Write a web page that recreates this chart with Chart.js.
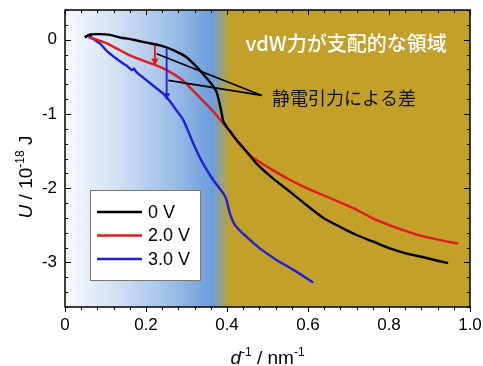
<!DOCTYPE html>
<html>
<head>
<meta charset="utf-8">
<script src="https://cdn.jsdelivr.net/npm/chart.js@4.4.1/dist/chart.umd.min.js"></script>
<style>
  html, body { margin: 0; padding: 0; overflow: hidden; background: #fff; }
  canvas { display: block; }
</style>
</head>
<body>
<canvas id="chart" width="495" height="380"></canvas>
<script>
// ---- data ----
const seriesLabels = ['0 V', '2.0 V', '3.0 V'];
const seriesColors = ['#000000', '#e3191b', '#1f1fd6'];

const v0x = [0.049, 0.062, 0.086, 0.111, 0.136, 0.169, 0.202, 0.235, 0.267, 0.300, 0.324, 0.350, 0.366, 0.374, 0.380, 0.386, 0.391, 0.399, 0.412, 0.424, 0.449, 0.473, 0.514, 0.556, 0.597, 0.638, 0.679, 0.720, 0.761, 0.802, 0.844, 0.885, 0.946];
const v0y = [0.03, 0.07, 0.075, 0.065, 0.03, 0.0, -0.04, -0.077, -0.14, -0.235, -0.36, -0.52, -0.63, -0.70, -0.82, -0.97, -1.10, -1.17, -1.265, -1.355, -1.51, -1.669, -1.871, -2.05, -2.23, -2.40, -2.52, -2.63, -2.72, -2.81, -2.88, -2.93, -3.01];

const v2x = [0.058, 0.078, 0.103, 0.128, 0.152, 0.185, 0.218, 0.251, 0.284, 0.309, 0.333, 0.358, 0.383, 0.407, 0.432, 0.457, 0.473, 0.514, 0.556, 0.597, 0.638, 0.679, 0.720, 0.761, 0.802, 0.844, 0.885, 0.926, 0.971];
const v2y = [0.035, 0.0, -0.05, -0.12, -0.19, -0.265, -0.33, -0.41, -0.52, -0.645, -0.78, -0.92, -1.075, -1.24, -1.41, -1.56, -1.62, -1.76, -1.89, -2.0, -2.095, -2.19, -2.29, -2.41, -2.5, -2.58, -2.65, -2.70, -2.746];

const v3x = [0.049, 0.058, 0.070, 0.086, 0.103, 0.128, 0.152, 0.165, 0.170, 0.177, 0.193, 0.218, 0.243, 0.259, 0.275, 0.292, 0.317, 0.341, 0.366, 0.391, 0.399, 0.407, 0.420, 0.449, 0.481, 0.523, 0.564, 0.613];
const v3y = [0.035, 0.06, 0.01, -0.05, -0.15, -0.26, -0.35, -0.41, -0.39, -0.44, -0.51, -0.62, -0.73, -0.83, -0.95, -1.08, -1.40, -1.67, -1.89, -2.07, -2.16, -2.34, -2.50, -2.66, -2.81, -2.97, -3.10, -3.27];

const xTicks = [0, 0.2, 0.4, 0.6, 0.8, 1.0];
const xTickLabels = ['0', '0.2', '0.4', '0.6', '0.8', '1.0'];
const yTicks = [-3, -2, -1, 0];
const yTickLabels = ['-3', '-2', '-1', '0'];

// arrows: [x, from, to] in data units
const redArrow = [0.222, -0.077, -0.346];
const blueArrow = [0.251, -0.121, -0.817];
// pointer lines to the label
const pointerStarts = [[0.226, -0.188], [0.255, -0.548]];
const pointerEnd = [0.486, -0.75];

const regionText = 'vdW力が支配的な領域';
const diffText = '静電引力による差';

const FONT = '"Liberation Sans", Arial, sans-serif';
const JFONT = '"Noto Sans CJK JP", sans-serif';

function pts(xs, ys) { return xs.map((x, i) => ({ x: x, y: ys[i] })); }

function line(ctx, x1, y1, x2, y2) {
    ctx.beginPath(); ctx.moveTo(x1, y1); ctx.lineTo(x2, y2); ctx.stroke();
}

// text made of runs: {t, italic, sup}
function drawRuns(ctx, runs, cx, cy, size) {
    const fontFor = r => (r.italic ? 'italic ' : '') + (r.sup ? Math.round(size * 0.65) : size) + 'px ' + FONT;
    let w = 0;
    runs.forEach(r => { ctx.font = fontFor(r); w += ctx.measureText(r.t).width; });
    let x = cx - w / 2;
    ctx.textBaseline = 'alphabetic';
    ctx.textAlign = 'left';
    runs.forEach(r => {
        ctx.font = fontFor(r);
        ctx.fillText(r.t, x, r.sup ? cy - size * 0.42 : cy);
        x += ctx.measureText(r.t).width;
    });
}

const backdrop = {
    id: 'backdrop',
    beforeDraw(chart) {
        const ctx = chart.ctx, a = chart.chartArea, xs = chart.scales.x;
        const g = ctx.createLinearGradient(xs.getPixelForValue(0), 0, xs.getPixelForValue(1), 0);
        g.addColorStop(0, '#f7f9fd');
        g.addColorStop(0.12, '#d4e2f4');
        g.addColorStop(0.25, '#a3c2ea');
        g.addColorStop(0.365, '#6b9ddc');
        g.addColorStop(0.387, '#9aa27c');
        g.addColorStop(0.407, '#c2a02a');
        g.addColorStop(1, '#c2a02a');
        ctx.save();
        ctx.fillStyle = g;
        ctx.fillRect(a.left, a.top, a.right - a.left, a.bottom - a.top);
        ctx.restore();
    }
};

const decor = {
    id: 'decor',
    afterDatasetsDraw(chart) {
        const ctx = chart.ctx, a = chart.chartArea, xs = chart.scales.x, ys = chart.scales.y;
        const X = v => xs.getPixelForValue(v), Y = v => ys.getPixelForValue(v);
        ctx.save();

        // arrows
        [[redArrow, seriesColors[1]], [blueArrow, seriesColors[2]]].forEach(([ar, c]) => {
            const x = X(ar[0]), y1 = Y(ar[1]), y2 = Y(ar[2]);
            ctx.strokeStyle = c; ctx.fillStyle = c; ctx.lineWidth = 1.8;
            line(ctx, x, y1, x, y2 - 5);
            ctx.beginPath();
            ctx.moveTo(x - 3.5, y2 - 7); ctx.lineTo(x + 3.5, y2 - 7); ctx.lineTo(x, y2); ctx.closePath(); ctx.fill();
        });

        // pointer lines
        ctx.strokeStyle = '#000'; ctx.lineWidth = 1.6;
        pointerStarts.forEach(p => line(ctx, X(p[0]), Y(p[1]), X(pointerEnd[0]), Y(pointerEnd[1])));

        // texts
        ctx.textBaseline = 'middle';
        ctx.textAlign = 'center';
        ctx.fillStyle = '#fff';
        ctx.font = '500 20px ' + JFONT;
        ctx.fillText(regionText, X(0.694), Y(-0.046));
        ctx.fillStyle = '#111';
        ctx.font = '18px ' + JFONT;
        ctx.textAlign = 'left';
        ctx.fillText(diffText, X(0.511), Y(-0.79));

        // legend box
        const bx = a.left + 25, by = a.top + 180, bw = 110, bh = 90;
        ctx.fillStyle = '#fff';
        ctx.fillRect(bx, by, bw, bh);
        ctx.strokeStyle = '#777'; ctx.lineWidth = 1;
        ctx.strokeRect(bx + 0.5, by + 0.5, bw, bh);
        ctx.font = '18px ' + FONT;
        ctx.textBaseline = 'middle';
        chart.data.datasets.forEach((ds, i) => {
            const ly = by + 22 + i * 23.5;
            ctx.strokeStyle = ds.borderColor; ctx.lineWidth = 2.5;
            line(ctx, bx + 7, ly, bx + 52, ly);
            ctx.fillStyle = '#000';
            ctx.fillText(ds.label, bx + 58, ly + 1);
        });

        // frame and ticks
        ctx.strokeStyle = '#000'; ctx.lineWidth = 1;
        for (let i = 0; i <= 25; i++) {
            const px = Math.round(X(i * 0.04)) + 0.5, len = i % 5 === 0 ? 5 : 3;
            line(ctx, px, a.bottom, px, a.bottom + len);
            line(ctx, px, a.top, px, a.top + len);
        }
        for (let i = 0; i <= 20; i++) {
            const py = Math.round(Y(-3.6 + i * 0.2)) + 0.5, len = (i - 3) % 5 === 0 ? 6 : 3;
            line(ctx, a.left, py, a.left + len, py);
            line(ctx, a.right, py, a.right - len, py);
        }
        ctx.lineWidth = 1.5;
        ctx.strokeRect(a.left, a.top, a.right - a.left, a.bottom - a.top);

        // axis titles
        ctx.fillStyle = '#000';
        drawRuns(ctx, [{ t: 'd', italic: true }, { t: '-1', sup: true }, { t: ' / nm' }, { t: '-1', sup: true }], (a.left + a.right) / 2, 364, 19);
        ctx.translate(32, 177);
        ctx.rotate(-Math.PI / 2);
        drawRuns(ctx, [{ t: 'U', italic: true }, { t: ' / 10' }, { t: '-18', sup: true }, { t: ' J' }], 0, 0, 19);
        ctx.restore();
    }
};

new Chart(document.getElementById('chart'), {
    type: 'line',
    data: {
        datasets: [
            { label: seriesLabels[0], data: pts(v0x, v0y), borderColor: seriesColors[0] },
            { label: seriesLabels[1], data: pts(v2x, v2y), borderColor: seriesColors[1] },
            { label: seriesLabels[2], data: pts(v3x, v3y), borderColor: seriesColors[2] }
        ]
    },
    options: {
        responsive: false,
        animation: false,
        devicePixelRatio: 1,
        layout: { padding: { left: 0, top: 10, right: 25, bottom: 0 } },
        elements: {
            line: { borderWidth: 2.4, tension: 0.2, fill: false },
            point: { radius: 0 }
        },
        plugins: { legend: { display: false }, tooltip: { enabled: false } },
        scales: {
            x: {
                type: 'linear', min: 0, max: 1,
                afterBuildTicks: s => { s.ticks = xTicks.map(v => ({ value: v })); },
                afterFit: s => { s.height = 73; s.paddingLeft = 0; s.paddingRight = 0; },
                ticks: {
                    callback: (v, i) => xTickLabels[i],
                    color: '#000', font: { family: FONT, size: 17 },
                    padding: 8, maxRotation: 0, autoSkip: false
                },
                grid: { display: false, drawTicks: false },
                border: { display: false }
            },
            y: {
                type: 'linear', min: -3.6, max: 0.4,
                afterBuildTicks: s => { s.ticks = yTicks.map(v => ({ value: v })); },
                afterFit: s => { s.width = 65; s.paddingTop = 0; s.paddingBottom = 0; },
                ticks: {
                    callback: (v, i) => yTickLabels[i],
                    color: '#000', font: { family: FONT, size: 17 },
                    padding: 8, autoSkip: false
                },
                grid: { display: false, drawTicks: false },
                border: { display: false }
            }
        }
    },
    plugins: [backdrop, decor]
});
</script>
</body>
</html>
